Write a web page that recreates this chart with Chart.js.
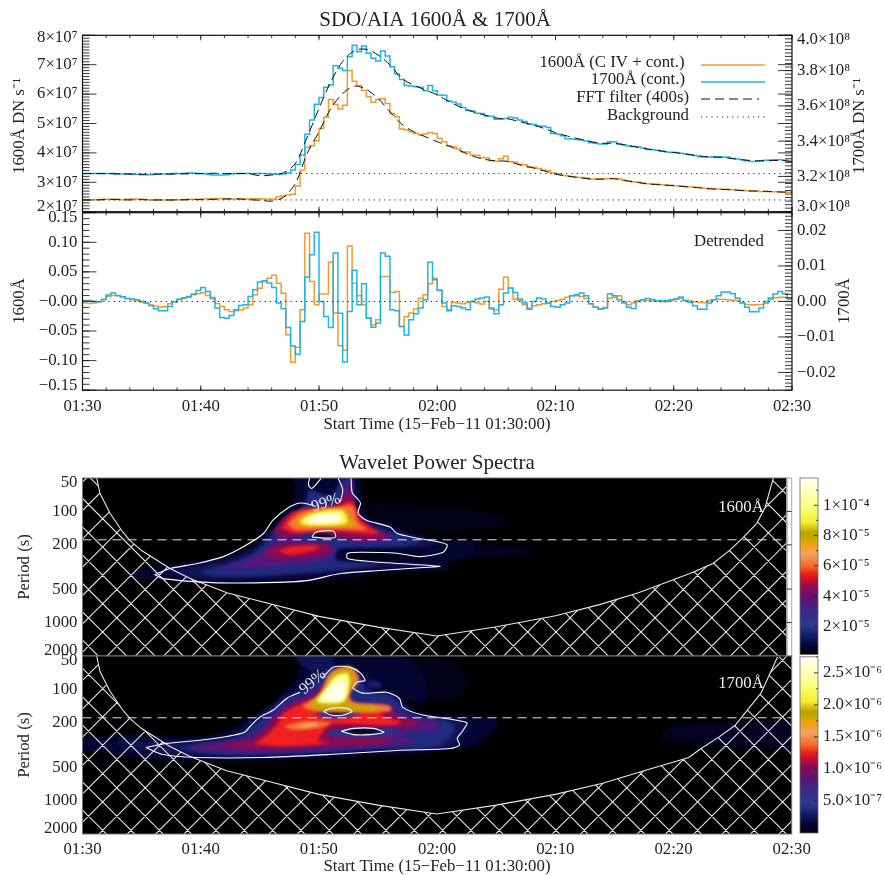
<!DOCTYPE html>
<html><head><meta charset="utf-8">
<style>html,body{margin:0;padding:0;background:#fff;width:884px;height:875px;overflow:hidden}canvas{position:absolute;left:0;top:0}</style>
<script src="https://cdn.jsdelivr.net/npm/chart.js@4"></script>
</head><body>
<script>
// ---------- DATA ----------
const flux1600 = [2.40,2.40,2.41,2.41,2.42,2.42,2.43,2.42,2.41,2.42,2.43,2.43,2.42,2.41,2.40,2.40,2.40,2.40,2.40,2.41,2.41,2.41,2.42,2.42,2.42,2.43,2.44,2.44,2.45,2.45,2.44,2.43,2.43,2.43,2.43,2.44,2.44,2.44,2.43,2.43,2.43,
2.51,2.53,2.57,2.59,2.87,3.42,4.18,4.24,4.41,4.83,5.21,5.82,5.65,5.49,5.62,6.80,6.44,6.29,6.12,5.91,5.72,5.82,5.85,5.68,5.34,5.23,4.81,4.78,4.72,4.66,4.61,4.64,4.69,4.66,4.49,4.38,4.24,4.21,4.13,4.04,4.03,3.93,3.92,3.84,3.83,3.73,3.72,3.80,3.89,3.70,3.69,3.61,3.60,3.52,3.51,3.47,3.42,3.39,3.32,3.29,3.24,3.22,3.20,3.17,3.16,3.15,3.11,3.11,3.11,3.12,3.13,3.13,3.12,3.07,3.04,3.02,3.00,2.98,2.95,2.94,2.93,2.92,2.91,2.90,2.88,2.87,2.86,2.84,2.83,2.82,2.80,2.79,2.78,2.77,2.76,2.76,2.75,2.74,2.73,2.71,2.70,2.70,2.69,2.69,2.68,2.68,2.67,2.67,2.66];
const flux1700 = [3.216,3.216,3.216,3.217,3.217,3.216,3.216,3.214,3.214,3.214,3.212,3.212,3.210,3.210,3.210,3.212,3.214,3.214,3.214,3.216,3.216,3.217,3.219,3.219,3.217,3.216,3.212,3.208,3.208,3.208,3.210,3.214,3.216,3.217,3.217,3.217,3.217,3.217,3.217,3.214,3.214,3.212,
3.214,3.221,3.236,3.268,3.321,3.439,3.520,3.609,3.647,3.705,3.718,3.828,3.813,3.800,3.879,3.943,3.907,3.940,3.898,3.870,3.854,3.911,3.883,3.822,3.781,3.750,3.716,3.713,3.709,3.705,3.686,3.716,3.686,3.662,3.660,3.628,3.622,3.611,3.590,3.573,3.571,3.558,3.556,3.543,3.541,3.524,3.524,3.529,3.535,3.531,3.520,3.512,3.497,3.495,3.486,3.484,3.478,3.444,3.440,3.431,3.414,3.412,3.410,3.406,3.401,3.391,3.388,3.384,3.384,3.397,3.395,3.384,3.380,3.372,3.369,3.367,3.361,3.353,3.352,3.348,3.342,3.338,3.336,3.335,3.331,3.327,3.323,3.319,3.312,3.310,3.310,3.312,3.312,3.310,3.308,3.302,3.299,3.295,3.289,3.285,3.285,3.287,3.291,3.293,3.295,3.295,3.291,3.284];
const fft1600 = [2.40,2.40,2.41,2.41,2.40,2.41,2.40,2.40,2.40,2.41,2.41,2.42,2.43,2.44,2.41,2.39,2.36,2.49,2.96,3.98,4.72,5.51,6.02,6.27,6.16,5.85,5.40,4.98,4.72,4.55,4.38,4.23,4.06,3.89,3.78,3.73,3.71,3.59,3.50,3.39,3.28,3.21,3.16,3.11,3.11,3.12,3.05,2.99,2.94,2.91,2.88,2.85,2.82,2.78,2.76,2.74,2.71,2.70,2.69,2.67,2.66];
const fft1700 = [3.216,3.216,3.216,3.214,3.214,3.212,3.213,3.213,3.214,3.215,3.216,3.218,3.217,3.216,3.216,3.204,3.208,3.221,3.274,3.422,3.586,3.737,3.851,3.913,3.921,3.888,3.832,3.756,3.718,3.690,3.662,3.624,3.592,3.567,3.548,3.531,3.526,3.510,3.493,3.473,3.448,3.429,3.412,3.397,3.388,3.388,3.376,3.365,3.353,3.344,3.336,3.327,3.318,3.310,3.308,3.301,3.293,3.289,3.289,3.291,3.285];
const background1600 = 2.40, background1700 = 3.216;
// detrended 1600 in units of 0.001, detrended 1700 in units of 0.0001
const det1600 = [-2.8,-3.4,-2.8,-0.6,3.4,8.4,10.1,9.6,7.9,5.1,2.8,1.1,-1.1,-2.8,-6.2,-7.9,-9.6,-8.4,-3.9,0,2.8,5.6,7.3,11.2,12.9,14.6,10.1,4.5,-3.4,-8.4,-14,-16.9,-15.7,-14.6,-11.2,-5.6,11.2,22.5,33.7,39.3,44.4,30.9,14,-56.2,-102.8,-77.6,-14,115.2,33.7,-5.6,12.4,12.4,66.3,-19.7,-74.7,-82.6,93.9,30.9,9.6,-5.6,-28.1,-39.3,-30.9,42.2,42.2,15.2,16.9,-42.2,-25.3,-19.7,-12.9,5.6,11.2,29.8,39.3,19.7,-8.4,-14,-1.7,-2.8,-3.9,-1.7,0,-2.8,-4.5,0,-12.9,-14,20.8,41,22.5,3.9,1.7,-5.6,-11.2,-7.3,-5.6,-3.9,-2.8,0,1.7,3.9,7.3,9.6,9.6,8.4,5.6,-3.9,-9.6,-12.4,-10.1,5.6,7.3,9.6,0,-5.6,-2.8,1.7,2.8,1.7,0.6,0,-0.6,-0.6,1.7,3.9,5.6,1.7,0.6,-0.6,-1.7,-1.7,1.7,2.8,3.9,3.9,2.8,2.2,1.7,-1.7,-5.1,-5.6,-5.6,-5.1,0,3.9,6.2,7.3,7.3,3.9];
const det1700 = [2.8,2.8,0,-0.9,5.7,17.9,23.5,17,13.2,8.5,6.6,4.7,0.9,-4.7,-11.3,-20.7,-26.4,-26.4,-14.1,-1.9,6.6,10.4,14.1,20.7,31.1,39.6,28.3,11.3,-18.8,-45.2,-47.1,-39.6,-23.6,-11.3,-9.4,14.1,33,54.6,58.4,51.8,39.6,-4.7,-20.7,-73.5,-125.3,-148.8,-56.5,68.8,131.9,195,0,-42.4,-73.5,136.6,-33,-170.5,-28.3,87.6,-9.4,49.9,-47.1,-72.5,-61.2,136.6,127.2,-23.6,-26.4,-70.7,-94.2,-51.8,-34.9,-18.8,4.7,110.2,61.2,31.1,-4.7,-26.4,-12.2,-14.1,-18.8,-23.6,0,6.6,9.4,12.2,-18.8,-34.9,-9.4,23.6,37.7,25.4,6.6,-4.7,-21.7,0,9.4,6.6,-4.7,-14.1,-16,-9.4,-4.7,16,18.8,23.6,16,-6.6,-16,-21.7,-18.8,21.7,16,4.7,-4.7,-16,-19.8,0,4.7,8.5,4.7,2.8,2.8,2.8,4.7,6.6,12.2,2.8,-2.8,-12.2,-21.7,-21.7,-4.7,4.7,16,26.4,26.4,21.7,9.4,-4.7,-16,-29.2,-29.2,-18.8,-4.7,9.4,20.7,28.3,21.7,9.4];

const timeLabels = ['01:30','01:40','01:50','02:00','02:10','02:20','02:30'];
const timeTicks = [0,10,20,30,40,50,60];
const left1Labels = ['2×10⁷','3×10⁷','4×10⁷','5×10⁷','6×10⁷','7×10⁷','8×10⁷'];
const left1Pos = [2.16,3,4,5,6,7,7.91];
const right1Labels = ['3.0×10⁸','3.2×10⁸','3.4×10⁸','3.6×10⁸','3.8×10⁸','4.0×10⁸'];
const right1Pos = [3.027,3.2,3.4,3.6,3.8,3.973];
const left2Labels = ['−0.15','−0.10','−0.05','−0.00','0.05','0.10','0.15'];
const left2Pos = [-0.1416,-0.10,-0.05,0,0.05,0.10,0.1416];
const right2Labels = ['−0.02','−0.01','0.00','0.01','0.02'];
const right2Pos = [-0.02,-0.01,0,0.01,0.02];
const periodLabels = ['50','100','200','500','1000','2000'];
const periodTicks = [50,100,200,500,1000,2000];
const periodLabelPos = [55.4,100,200,500,1000,1802];
const cb1Labels = ['2×10⁻⁵','4×10⁻⁵','6×10⁻⁵','8×10⁻⁵','1×10⁻⁴'];
const cb1Ticks = [2e-5,4e-5,6e-5,8e-5,1e-4];
const cb1Minor = [1e-5,3e-5,5e-5,7e-5,9e-5,1.1e-4];
const cb2Labels = ['5.0×10⁻⁷','1.0×10⁻⁶','1.5×10⁻⁶','2.0×10⁻⁶','2.5×10⁻⁶'];
const cb2Ticks = [5e-7,1e-6,1.5e-6,2e-6,2.5e-6];
const cb2Minor = [2.5e-7,7.5e-7,1.25e-6,1.75e-6,2.25e-6,2.75e-6];

// Cone of influence (minutes, period in s)
const coiLeft = [[1.2,50],[1.48,69],[2.33,104],[3.34,150],[4.0,182],[5,225],[7.4,326],[9.1,402],[12.2,540],[14.2,610],[20,880],[25,1100],[29.97,1320]];
const coiRight1600 = [[35,1090],[40,870],[43.7,690],[47,540],[51.35,362],[53.3,294],[54.7,224],[55.8,174],[57,128],[57.7,92],[58.4,50]];
const coiRight1700 = [[35,1100],[40,880],[44,700],[48,520],[51.3,410],[52.2,347],[53.8,270],[55.2,211],[57.4,108],[58.8,51]];

// 99% contours (minutes, period)
const contours1600 = [
 [[6.1,370],[7.4,326],[9.7,294],[11.9,255],[13.6,208],[15.3,158],[16.1,120],[17.3,94],[18.4,84],[19.5,88]],
 [[21.8,82],[22,64],[21.6,50]],
 [[22.7,50],[22.8,68],[23.2,76],[23.5,84],[23.3,104],[24,120],[26,138],[26.6,158],[28.3,174],[30.8,198],[30.5,233],[28.5,255],[26.6,238],[23.7,233],[22.4,238],[22.4,265],[24.3,282],[30.2,312],[28.8,320],[25.1,340],[21.8,362],[19,419],[15.3,437],[11,437],[6.8,402],[6.1,370]],
 [[19.4,170],[19.7,154],[21.2,150],[21.4,170],[20.5,174],[19.4,170]],
 [[19.2,50],[19.1,58],[19.4,62],[20.2,50]]
];
const contours1700 = [
 [[5.37,333],[7.1,306],[9.7,288],[12.2,265],[13.7,243],[14.3,208],[15,178],[16.1,154],[17.3,120],[18.4,106]],
 [[20.3,79],[21.2,63],[22.6,63],[23.5,71],[23.9,83],[23.2,86],[22.9,97],[23.7,108],[25.7,106],[26.8,120],[27.1,145],[28.8,170],[32.5,198],[32.2,233],[31.7,276],[31.9,316],[31.1,340],[26.6,354],[20.9,385],[15.3,410],[9.7,410],[6.8,385],[5.37,333]],
 [[20.4,158],[21,148],[22.4,148],[22.8,158],[22.1,170],[21,170],[20.4,158]],
 [[21.9,238],[22.9,224],[24.6,224],[25.5,243],[24.3,255],[22.9,255],[21.9,238]]
];

// Wavelet power levels: colour-table fraction + closed outline (minutes, period)
const heat1600 = [
 {level:.018, pts:[[24,85],[28,90],[34,100],[36,130],[30,150],[25,130]]},
 {level:.025, pts:[[30.5,190],[37,205],[38,240],[31,255]]},
 {level:.05, pts:[[3.6,360],[6.8,305],[9.6,280],[12.5,245],[14,210],[15.2,165],[16.5,118],[17.6,85],[18,62],[17.8,48],[23.2,48],[23.6,70],[24.2,110],[26,125],[27.5,150],[30.8,180],[33,190],[33,250],[30.8,290],[31,335],[26,350],[20,420],[14,440],[8,430],[5,400]]},
 {level:.09, pts:[[7,345],[10,300],[12.5,265],[14.5,215],[16,150],[17.3,108],[18.5,92],[19,70],[18.7,48],[19.3,62],[21,70],[22,48],[23,48],[23,85],[23.5,115],[26,140],[28,165],[30,190],[28,212],[24,215],[21.5,225],[21.5,270],[26,290],[30,310],[25,325],[20,365],[14,400],[9,395]]},
 {level:.14, pts:[[10,345],[12.5,290],[14.5,235],[16,165],[17.3,112],[18.5,96],[19,75],[19.2,65],[21,72],[22,52],[22.8,52],[22.9,88],[23.4,118],[25.5,145],[27,165],[28.5,188],[27,205],[24,210],[21.5,220],[21.5,275],[25,295],[22,330],[18,360],[14,385],[11,380]]},
 {level:.30, pts:[[11,330],[13.5,285],[15.5,220],[16.6,170],[17.5,125],[19,105],[21.5,95],[22.3,55],[22.8,55],[22.9,95],[24,140],[26,180],[24,190],[20,190],[19,215],[21.5,215],[21,260],[18,300],[14,320]]},
 {level:.14, pts:[[18.3,180],[19,148],[22,142],[23.2,165],[22.5,185],[20,190]]},
 {level:.05, pts:[[19.4,170],[19.7,154],[21.2,150],[21.4,170],[20.5,174]]},
 {level:.02, pts:[[22.4,235],[26,232],[29,250],[27,262],[24,272],[22.4,262]]},
 {level:.38, pts:[[16,155],[17.5,105],[21,90],[22.6,70],[23.3,100],[24.5,140],[26,170],[23,178],[19,150],[17,170]]},
 {level:.38, pts:[[15.5,225],[16.5,202],[19,195],[21,200],[20.5,240],[17,265],[15.5,250]]},
 {level:.46, pts:[[16.8,140],[18,100],[21.5,90],[22.8,82],[23.5,120],[25,158],[21,150],[18,158]]},
 {level:.46, pts:[[16.5,225],[18,205],[20,205],[19.5,225],[17.5,245]]},
 {level:.52, pts:[[17.3,130],[18.5,102],[21.5,92],[22.8,90],[23.3,125],[24,145],[21,143],[18,146]]},
 {level:.64, pts:[[18.1,124],[19,103],[22,95],[22.7,118],[23,134],[19.5,138],[18.3,134]]},
 {level:.80, pts:[[18.4,122],[19.2,106],[21.9,98],[22.4,118],[22.2,130],[19.5,134],[18.6,130]]},
 {level:.97, pts:[[18.9,120],[19.5,110],[21.5,104],[21.9,118],[21.5,126],[19.5,128]]}
];
const heat1700 = [
 {level:.02, pts:[[26,55],[31,55],[32.5,90],[31,130],[29,110],[27,80]]},
 {level:.03, pts:[[50,205],[55,198],[62,205],[62,320],[54,325],[49,270]]},
 {level:.05, pts:[[-1,275],[5,255],[9,270],[12,245],[14,180],[16,140],[17,105],[18,85],[19,50],[27,50],[29,80],[29,130],[27,120],[29,165],[35,185],[35,220],[33,330],[30,360],[20,420],[10,440],[6,430],[2,370],[-1,345]]},
 {level:.12, pts:[[23.7,83],[25,85],[25.3,95],[24,95]]},
 {level:.09, pts:[[3,285],[6,300],[10,275],[13,245],[14.7,175],[17,115],[18.5,95],[19.5,75],[18,52],[19,48],[21,48],[21.5,62],[24,75],[24.5,100],[26,105],[27,125],[28,160],[32,190],[32.5,230],[31,335],[25,358],[18,395],[10,400],[6,370],[3,310]]},
 {level:.14, pts:[[8,335],[10.5,300],[13,265],[15,190],[17.2,122],[18.8,100],[19.8,80],[21,65],[23.5,78],[24,102],[26,112],[26.7,130],[27.7,165],[31,195],[31.5,230],[30,325],[25,345],[18,380],[11,385]]},
 {level:.30, pts:[[9,320],[13,285],[14.8,240],[16,175],[17.5,130],[19,110],[20.5,85],[21.5,70],[23,80],[22.3,105],[23.5,130],[26,135],[27,170],[30,195],[30,225],[27,255],[28,300],[22,345],[14,370],[10,350]]},
 {level:.38, pts:[[11,315],[14.5,280],[15.5,225],[16.5,170],[18,130],[19.5,115],[20.5,90],[22,75],[22.8,85],[22,120],[24,145],[26,145],[26.5,170],[28.5,195],[28,215],[25,220],[26,290],[22,320],[15,345]]},
 {level:.46, pts:[[14.5,310],[15.5,260],[16.5,205],[17,165],[18.5,135],[20,120],[21,90],[22,78],[22.6,90],[21.8,125],[25,150],[25.5,175],[27,195],[26,210],[21,205],[20.5,230],[20,285],[21,300],[17,325]]},
 {level:.16, pts:[[20.5,245],[22,225],[25,222],[27,240],[25,268],[21.5,265]]},
 {level:.02, pts:[[22,238],[23,228],[24.5,228],[25.3,240],[24,250],[23,250]]},
 {level:.18, pts:[[19.7,165],[20.5,148],[22.8,145],[23.5,160],[22.5,178],[20.5,180]]},
 {level:.03, pts:[[20.5,160],[21.2,150],[22.3,150],[22.6,160],[21.8,168],[21,168]]},
 {level:.52, pts:[[18.6,140],[20,110],[21,70],[22.7,62],[23.4,82],[22.6,112],[23,130],[26,140],[26,158],[21,160],[19,152]]},
 {level:.66, pts:[[19.2,135],[20.3,105],[21.2,72],[22.5,66],[23,80],[22.5,105],[22.4,132],[25,143],[24.8,153],[21,153],[19.5,148]]},
 {level:.85, pts:[[19.8,125],[20.6,98],[21.4,76],[22.4,72],[22.6,85],[22.2,125],[21.2,134],[20,132]]},
 {level:.98, pts:[[20.2,120],[20.9,95],[21.6,84],[22.2,86],[22,122],[21.2,127]]},
 {level:.52, pts:[[17,215],[18.5,195],[21,200],[20,220],[18,232]]},
 {level:.58, pts:[[18,212],[19,200],[20,206],[19,220]]}
];
// colour table stops
const cmapStops = [[0,'#000008'],[.06,'#06063a'],[.12,'#1a2070'],[.17,'#2c3a92'],[.24,'#3a2a88'],[.31,'#5a1478'],[.38,'#8c0a50'],[.43,'#cc1028'],[.46,'#ee2020'],[.5,'#f06a20'],[.57,'#f4a068'],[.62,'#f4a212'],[.66,'#c8a800'],[.69,'#b8a400'],[.75,'#f2ee30'],[.85,'#ffff88'],[.95,'#ffffd0'],[1,'#fffff8']];

// ---------- HELPERS ----------
const FONT = '"Liberation Serif","Times New Roman",serif';
const FS = 16.8;
const ORANGE = '#f49a2c', BLUE = '#1eb4ea';
function hex(c){return [1,3,5].map(i=>parseInt(c.substr(i,2),16));}
function cmap(f){
  for(let i=1;i<cmapStops.length;i++){
    if(f<=cmapStops[i][0]){
      const [a,ca]=cmapStops[i-1],[b,cb]=cmapStops[i];const t=(f-a)/(b-a);
      const A=hex(ca),B=hex(cb);
      return `rgb(${A.map((v,k)=>Math.round(v+(B[k]-v)*t)).join(',')})`;
    }
  }
  return cmapStops[cmapStops.length-1][1];
}
function newCanvas(){const c=document.createElement('canvas');c.width=884;c.height=875;c.style.width='884px';c.style.height='875px';document.body.appendChild(c);return c.getContext('2d');}
function stepData(vals,k){const p=vals.map((v,i)=>({x:i*0.4,y:v*k}));p.push({x:60,y:vals[vals.length-1]*k});return p;}
function pairs(a){return a.map(p=>({x:p[0],y:p[1]}));}
function range(a,b,s){const r=[];for(let v=a;v<=b+s*1e-6;v+=s)r.push(+v.toFixed(8));return r;}
function fixAxis(size,isX){return s=>{if(isX)s.height=size;else s.width=size;s.paddingLeft=s.paddingRight=s.paddingTop=s.paddingBottom=0;};}
function axis(o){
  const cfg={type:o.type||'linear',position:o.position,min:o.min,max:o.max,display:o.display!==false,
    grid:{display:false,drawTicks:false},border:{display:false},
    ticks:{autoSkip:false,maxRotation:0,minRotation:0,padding:o.padding??5,color:'#222',font:{family:FONT,size:FS},display:!!o.labels},
    afterFit:fixAxis(o.size,o.position==='bottom')};
  if(o.labels){
    cfg.afterBuildTicks=s=>{s.ticks=o.pos.map(v=>({value:v}));};
    cfg.afterTickToLabelConversion=s=>{s.ticks.forEach((t,i)=>{t.label=o.labels[i];});};
  }
  return cfg;
}
function text(ctx,str,x,y,o={}){
  ctx.save();ctx.translate(x,y);if(o.rot)ctx.rotate(o.rot*Math.PI/180);
  ctx.font=`${o.size||FS}px ${FONT}`;ctx.fillStyle=o.color||'#222';ctx.textAlign=o.align||'center';ctx.textBaseline='middle';
  ctx.fillText(str,0,0);ctx.restore();
}
function drawTicks(ctx,chart,list){
  const a=chart.chartArea;
  ctx.save();ctx.strokeStyle='#222';ctx.lineWidth=0.9;ctx.beginPath();
  for(const t of list){
    const sc=chart.scales[t.scale];
    for(const v of t.values){
      const p=sc.getPixelForValue(v);
      if(t.side==='left'){ctx.moveTo(a.left,p);ctx.lineTo(a.left+t.len,p);}
      if(t.side==='right'){ctx.moveTo(a.right,p);ctx.lineTo(a.right-t.len,p);}
      if(t.side==='bottom'){ctx.moveTo(p,a.bottom);ctx.lineTo(p,a.bottom-t.len);}
      if(t.side==='top'){ctx.moveTo(p,a.top);ctx.lineTo(p,a.top+t.len);}
    }
  }
  ctx.stroke();ctx.restore();
}
function frame(ctx,chart){const a=chart.chartArea;ctx.save();ctx.strokeStyle='#111';ctx.lineWidth=1.2;ctx.strokeRect(a.left,a.top,a.right-a.left,a.bottom-a.top);ctx.restore();}
const xTicks=[{scale:'x',values:range(0,60,10),len:5,side:'bottom'},{scale:'x',values:range(0,60,2),len:2.8,side:'bottom'},{scale:'x',values:range(0,60,10),len:5,side:'top'},{scale:'x',values:range(0,60,2),len:2.8,side:'top'}];
const baseOpts={responsive:false,animation:false,devicePixelRatio:1,events:[],plugins:{legend:{display:false},tooltip:{enabled:false},title:{display:false}}};
function lineDs(data,o){return Object.assign({type:'line',data,pointRadius:0,borderWidth:1,fill:false,tension:0},o);}

// ---------- PANEL 1 : light curves ----------
new Chart(newCanvas(),{type:'line',data:{datasets:[
  lineDs(pairs(fft1600.map((v,i)=>[i,v])),{borderColor:'#111',borderDash:[9,5],tension:.3,yAxisID:'y'}),
  lineDs(pairs(fft1700.map((v,i)=>[i,v])),{borderColor:'#111',borderDash:[9,5],tension:.3,yAxisID:'y1'}),
  lineDs(pairs([[0,background1600],[60,background1600]]),{borderColor:'#222',borderDash:[1.2,4],yAxisID:'y'}),
  lineDs(pairs([[0,background1700],[60,background1700]]),{borderColor:'#222',borderDash:[1.2,4],yAxisID:'y1'}),
  lineDs(stepData(flux1700,1),{borderColor:BLUE,stepped:'before',borderWidth:1.5,yAxisID:'y1'}),
  lineDs(stepData(flux1600,1),{borderColor:ORANGE,stepped:'before',borderWidth:1.5,yAxisID:'y'})
]},options:{...baseOpts,layout:{padding:{left:0,right:0,top:35.3,bottom:875-211.7}},
  scales:{
    x:axis({min:0,max:60,position:'bottom',display:false,size:0}),
    y:axis({min:2,max:8,position:'left',size:82.5,labels:left1Labels,pos:left1Pos}),
    y1:axis({min:3,max:4,position:'right',size:92,labels:right1Labels,pos:right1Pos})
  }},
  plugins:[{id:'deco1',afterDatasetsDraw(chart){
    const c=chart.ctx;
    drawTicks(c,chart,[...xTicks,
      {scale:'y',values:range(2,8,1),len:14,side:'left'},{scale:'y',values:range(2,8,.1),len:7,side:'left'},
      {scale:'y',values:range(2,8,1),len:14,side:'right'},
      {scale:'y1',values:range(3,4,.2),len:14,side:'right'},{scale:'y1',values:range(3,4,.02),len:7,side:'right'}]);
    frame(c,chart);
    text(c,'SDO/AIA 1600Å & 1700Å',435,20,{size:21});
    text(c,'1600Å DN s⁻¹',20,126,{rot:-90});
    text(c,'1700Å DN s⁻¹',860,126,{rot:-90});
    const leg=[['1600Å (C IV + cont.)',684.5,63,ORANGE,[]],['1700Å (cont.)',685,80,BLUE,[]],['FFT filter (400s)',689,98,'#111',[9,5]],['Background',689,116,'#222',[1.2,4]]];
    for(const [s,x,y,col,d] of leg){
      text(c,s,x,y,{align:'right'});
      c.save();c.strokeStyle=col;c.lineWidth=d.length?1.1:1.6;c.setLineDash(d);c.beginPath();
      const yy=y+(y<90?2:1);c.moveTo(701,yy);c.lineTo(d.length&&d[0]>5?759:765,yy);c.stroke();c.restore();
    }
  }}]
});

// ---------- PANEL 2 : detrended ----------
new Chart(newCanvas(),{type:'line',data:{datasets:[
  lineDs(pairs([[0,0],[60,0]]),{borderColor:'#111',borderDash:[1.2,4],yAxisID:'y'}),
  lineDs(stepData(det1700,1e-4),{borderColor:BLUE,stepped:'before',borderWidth:1.5,yAxisID:'y1'}),
  lineDs(stepData(det1600,1e-3),{borderColor:ORANGE,stepped:'before',borderWidth:1.5,yAxisID:'y'})
]},options:{...baseOpts,layout:{padding:{left:0,right:0,top:212.7,bottom:875-390.2-40}},
  scales:{
    x:axis({min:0,max:60,position:'bottom',size:40,padding:6,labels:timeLabels,pos:timeTicks}),
    y:axis({min:-.15,max:.15,position:'left',size:82.5,labels:left2Labels,pos:left2Pos}),
    y1:axis({min:-.025,max:.025,position:'right',size:92,labels:right2Labels,pos:right2Pos})
  }},
  plugins:[{id:'deco2',afterDatasetsDraw(chart){
    const c=chart.ctx;
    drawTicks(c,chart,[...xTicks,
      {scale:'y',values:range(-.15,.15,.05),len:14,side:'left'},{scale:'y',values:range(-.15,.15,.01),len:7,side:'left'},
      {scale:'y1',values:range(-.02,.02,.01),len:14,side:'right'},{scale:'y1',values:range(-.025,.025,.001),len:7,side:'right'}]);
    frame(c,chart);
    text(c,'Detrended',729,242);
    text(c,'1600Å',20,301,{rot:-90});
    text(c,'1700Å',845,301,{rot:-90});
    text(c,'Start Time (15−Feb−11 01:30:00)',437,425);
    text(c,'Wavelet Power Spectra',437,463,{size:21});
  }}]
});

// ---------- PANELS 3,4 : wavelet ----------
function wavelet(o){
  const coi=[...o.coiL,...o.coiR];
  const layers=o.heat.map(h=>lineDs(pairs([...h.pts,h.pts[0]]),{fill:'shape',backgroundColor:cmap(h.level),borderWidth:0,tension:.35}));
  const lines=[
    lineDs(pairs(coi),{borderColor:'#e8e8e8',borderWidth:1.1}),
    lineDs(pairs([[0,180],[60,180]]),{borderColor:'#e4e4e4',borderWidth:1,borderDash:[9,6]}),
    ...o.contours.map(k=>lineDs(pairs(k),{borderColor:'#fff',borderWidth:1.1,tension:.25}))
  ];
  const all=[...layers,...lines];
  all.forEach((d,i)=>{d.order=all.length-i;});
  new Chart(newCanvas(),{type:'line',data:{datasets:all},options:{...baseOpts,
    layout:{padding:{left:0,right:884-o.right,top:o.top,bottom:875-o.bottom-(o.xLabels?40:0)}},
    scales:{
      x:o.xLabels?axis({min:0,max:o.xMax,position:'bottom',size:40,padding:6,labels:timeLabels,pos:timeTicks}):axis({min:0,max:o.xMax,position:'bottom',display:false,size:0}),
      y:Object.assign(axis({type:'logarithmic',min:50,max:2000,position:'left',size:82.5,labels:periodLabels,pos:periodLabelPos}),{reverse:true})
    }},
    plugins:[{id:'deco'+o.name,
      beforeDatasetsDraw(chart){const a=chart.chartArea,c=chart.ctx;c.save();c.fillStyle='#000';c.fillRect(a.left,a.top,a.right-a.left,a.bottom-a.top);c.restore();c.filter='blur(1.5px)';},
      afterDatasetDraw(chart,args){if(args.index===layers.length-1)chart.ctx.filter='none';},
      afterDatasetsDraw(chart){
        const c=chart.ctx,a=chart.chartArea,sx=chart.scales.x,sy=chart.scales.y;
        c.filter='none';
        c.save();c.beginPath();c.moveTo(a.left,a.top);
        coi.forEach(p=>c.lineTo(sx.getPixelForValue(p[0]),sy.getPixelForValue(p[1])));
        c.lineTo(a.right,a.top);c.lineTo(a.right,a.bottom);c.lineTo(a.left,a.bottom);c.closePath();c.clip();
        c.strokeStyle='#e4e4e4';c.lineWidth=1.1;c.beginPath();
        for(let k=-60;k<60;k++){
          const c1=o.hatchA+k*28.33,c2=o.hatchB+k*28.33;
          c.moveTo(a.left,a.left+c1);c.lineTo(a.right,a.right+c1);
          c.moveTo(a.left,c2-a.left);c.lineTo(a.right,c2-a.right);
        }
        c.stroke();c.restore();
        c.save();c.strokeStyle='#777';c.lineWidth=1;c.strokeRect(a.left,a.top,a.right-a.left,a.bottom-a.top);c.restore();
        text(c,'99%',o.pct[0],o.pct[1],{rot:o.pct[2],color:'#eee',size:16});
        text(c,o.name,741,o.nameY,{color:'#eee'});
        text(c,'Period (s)',25,o.labelY,{rot:-90});
        if(o.strip){
          c.save();c.fillStyle='#fff';c.fillRect(a.right,a.top,5,a.bottom-a.top);c.strokeStyle='#aaa';c.lineWidth=1;c.strokeRect(a.right+.5,a.top,4.5,a.bottom-a.top);
          c.strokeStyle='#333';c.beginPath();periodTicks.slice(1,5).forEach(v=>{const p=sy.getPixelForValue(v);c.moveTo(a.right,p);c.lineTo(a.right+5,p);});c.stroke();c.restore();
        }
        if(o.xLabels)text(c,'Start Time (15−Feb−11 01:30:00)',437,867);
      }}]
  });
}
wavelet({name:'1600Å',heat:heat1600,contours:contours1600,coiL:coiLeft,coiR:coiRight1600,top:478,bottom:656,right:786.7,xMax:59.53,hatchA:416,hatchB:593,pct:[326,503,-18],nameY:508,labelY:567,strip:true});
wavelet({name:'1700Å',heat:heat1700,contours:contours1700,coiL:coiLeft,coiR:coiRight1700,top:656,bottom:834,right:791.7,xMax:60,hatchA:416,hatchB:593,pct:[312.7,682,-40],nameY:684,labelY:745,xLabels:true});

// ---------- COLOUR BARS ----------
function colorbar(o){
  const N=140,ds=[];
  for(let i=0;i<N;i++){
    const lo=o.min+(o.max-o.min)*i/N,hi=o.min+(o.max-o.min)*(i+1.3)/N;
    ds.push({data:[[lo,Math.min(hi,o.max)]],backgroundColor:cmap((i+.5)/N),borderWidth:0,grouped:false,barPercentage:1,categoryPercentage:1,order:N-i});
  }
  new Chart(newCanvas(),{type:'bar',data:{labels:['power'],datasets:ds},options:{...baseOpts,
    layout:{padding:{left:800,right:0,top:o.top,bottom:875-o.bottom}},
    scales:{
      x:{display:false,grid:{display:false},afterFit:fixAxis(0,true)},
      y:axis({min:o.min,max:o.max,position:'right',size:66,labels:o.labels,pos:o.ticks})
    }},
    plugins:[{id:'cb'+o.top,afterDatasetsDraw(chart){
      const c=chart.ctx;
      drawTicks(c,chart,[{scale:'y',values:o.ticks,len:4,side:'right'},{scale:'y',values:o.minor,len:2,side:'right'}]);
      const a=chart.chartArea;c.save();c.strokeStyle='#666';c.lineWidth=.8;c.strokeRect(a.left,a.top,a.right-a.left,a.bottom-a.top);c.restore();
    }}]
  });
}
colorbar({min:1.5e-6,max:1.18e-4,top:478,bottom:654.5,labels:cb1Labels,ticks:cb1Ticks,minor:cb1Minor});
colorbar({min:0,max:2.75e-6,top:656.8,bottom:833,labels:cb2Labels,ticks:cb2Ticks,minor:cb2Minor});
</script>
</body></html>
